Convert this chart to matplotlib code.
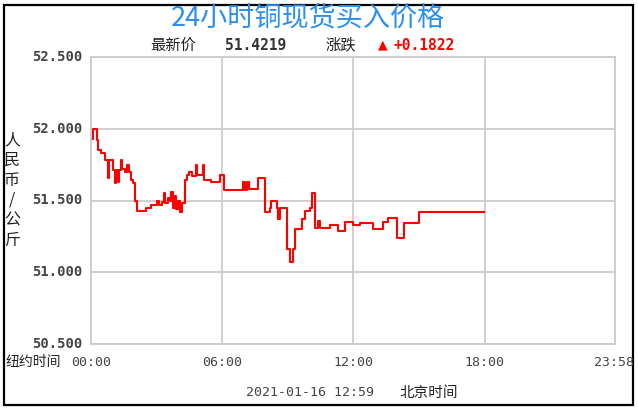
import matplotlib
matplotlib.use("Agg")
import matplotlib.pyplot as plt
from matplotlib.patches import Rectangle

plt.rcParams['font.family'] = ['DejaVu Sans Mono', 'Noto Sans CJK SC']

# Data: New York time (HH:MM) and price (RMB / kg), step series
times = ["00:00", "00:05", "00:16", "00:20", "00:28", "00:38", "00:48", "00:50",
         "01:00", "01:05", "01:08", "01:13", "01:16", "01:22", "01:25", "01:32",
         "01:38", "01:44", "01:50", "01:56", "02:02", "02:06", "02:30", "02:45",
         "03:00", "03:06", "03:15", "03:20", "03:24", "03:30", "03:36", "03:40",
         "03:45", "03:50", "03:54", "04:00", "04:04", "04:10", "04:18", "04:24",
         "04:30", "04:36", "04:48", "04:52", "05:06", "05:10", "05:30", "05:55",
         "06:05", "06:58", "07:02", "07:09", "07:13", "07:39", "07:50", "07:58",
         "08:10", "08:14", "08:30", "08:34", "08:40", "08:59", "09:07", "09:15",
         "09:21", "09:40", "09:48", "10:02", "10:07", "10:16", "10:24", "10:28",
         "10:57", "11:19", "11:38", "12:00", "12:19", "12:38", "12:55", "13:20",
         "13:34", "14:01", "14:20", "14:59", "17:58"]
prices = [51.93, 52.00, 51.92, 51.85, 51.83, 51.78, 51.66, 51.78,
          51.71, 51.62, 51.71, 51.63, 51.71, 51.78, 51.72, 51.70,
          51.75, 51.70, 51.64, 51.62, 51.50, 51.43, 51.45, 51.47,
          51.50, 51.47, 51.49, 51.55, 51.48, 51.52, 51.50, 51.56,
          51.45, 51.53, 51.44, 51.50, 51.42, 51.48, 51.64, 51.68,
          51.70, 51.67, 51.75, 51.68, 51.75, 51.64, 51.63, 51.68,
          51.57, 51.63, 51.57, 51.63, 51.58, 51.66, 51.66, 51.42,
          51.45, 51.50, 51.45, 51.37, 51.45, 51.16, 51.07, 51.16,
          51.30, 51.37, 51.43, 51.45, 51.55, 51.31, 51.36, 51.31,
          51.33, 51.29, 51.35, 51.33, 51.34, 51.34, 51.30, 51.35,
          51.38, 51.24, 51.34, 51.42, 51.4219]

latest = "51.4219"
change = "+0.1822"
y_ticks = [50.5, 51.0, 51.5, 52.0, 52.5]
x_ticks = [0, 6, 12, 18, 23 + 58 / 60]
x_labels = ["00:00", "06:00", "12:00", "18:00", "23:58"]

hours = [int(t[:2]) + int(t[3:]) / 60 for t in times]

fig = plt.figure(figsize=(6.38, 4.09), dpi=100)
fig.patches.append(Rectangle((4 / 638, 4 / 409), 629 / 638, 400 / 409,
                             transform=fig.transFigure, fill=False,
                             edgecolor='black', linewidth=1.6))

ax = fig.add_axes([91 / 638, 1 - 344 / 409, 524 / 638, 287 / 409])
ax.step(hours, prices, where='post', color='#ff0000', linewidth=1.5)
ax.set_xlim(0, x_ticks[-1])
ax.set_ylim(50.5, 52.5)
ax.set_yticks(y_ticks)
ax.set_xticks(x_ticks)
ax.grid(True, color='#cccccc', linewidth=1.3)
for s in ax.spines.values():
    s.set_color('#cccccc')
    s.set_linewidth(1.3)
ax.tick_params(length=0, labelbottom=False, labelleft=False)

# y tick labels
for v in y_ticks:
    ax.text(-0.016, (v - 50.5) / 2.0, f"{v:.3f}", transform=ax.transAxes,
            ha='right', va='center', fontsize=10, fontweight='bold', color='#444444')

# x tick labels
for h, lab in zip(x_ticks, x_labels):
    fig.text((91 + h / 24 * 524) / 638, 1 - 362 / 409, lab, ha='center', va='center',
             fontsize=9.5, color='#444444')
fig.text(6 / 638, 1 - 362 / 409, "纽约时间", ha='left', va='center', fontsize=10,
         color='#222222', family=['Noto Sans CJK SC'])

# y axis label: stacked characters
for i, ch in enumerate("人民币/公斤"):
    fig.text(12 / 638, 1 - (140 + i * 20) / 409, ch, ha='center', va='center',
             fontsize=11.5, color='#222222', family=['Noto Sans CJK SC'])

# title
fig.text(308 / 638, 1 - 18 / 409, "24小时铜现货买入价格", ha='center', va='center',
         fontsize=19.5, color='#2b8ff0', fontweight='medium', family=['Noto Sans CJK SC'])

# latest / change row
fig.text(173 / 638, 1 - 45 / 409, "最新价", ha='center', va='center', fontsize=11,
         color='#222222', family=['Noto Sans CJK SC'])
fig.text(256 / 638, 1 - 45 / 409, latest, ha='center', va='center', fontsize=10.5,
         color='#333333', fontweight='bold')
fig.text(341 / 638, 1 - 45 / 409, "涨跌", ha='center', va='center', fontsize=11,
         color='#222222', family=['Noto Sans CJK SC'])
fig.text(383 / 638, 1 - 45 / 409, "▲", ha='center', va='center', fontsize=9,
         color='#ff0000', family=['DejaVu Sans'])
fig.text(393 / 638, 1 - 45 / 409, change, ha='left', va='center', fontsize=10.5,
         color='#ff0000', fontweight='bold')

# bottom timestamp
fig.text(310 / 638, 1 - 393 / 409, "2021-01-16 12:59", ha='center', va='center',
         fontsize=9.5, color='#444444')
fig.text(429 / 638, 1 - 393 / 409, "北京时间", ha='center', va='center', fontsize=10.5,
         color='#222222', family=['Noto Sans CJK SC'])

fig.savefig("out.png", dpi=100)
